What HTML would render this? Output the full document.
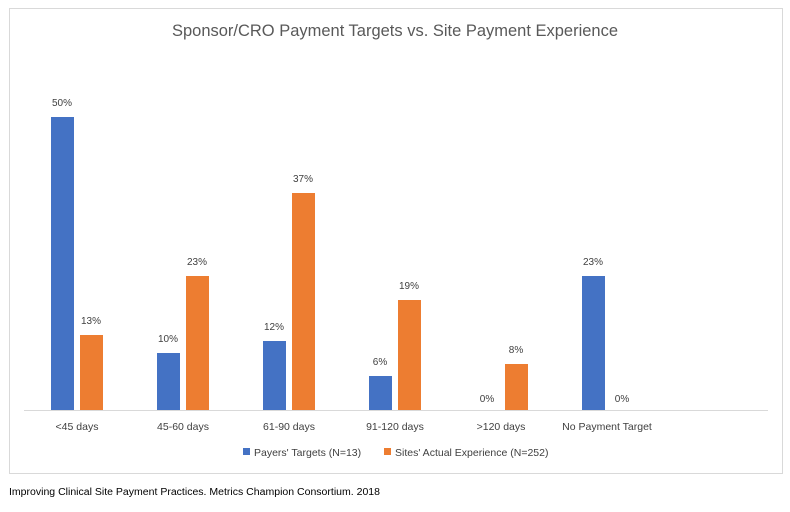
<!DOCTYPE html>
<html><head><meta charset="utf-8"><style>
body{margin:0;background:#fff;width:790px;height:507px;overflow:hidden;font-family:"Liberation Sans",sans-serif;}
</style></head><body>
<svg width="790" height="507" xmlns="http://www.w3.org/2000/svg" font-family="Liberation Sans, sans-serif">
<rect x="9.5" y="8.5" width="773" height="465" fill="#fff" stroke="#d9d9d9"/>
<text x="172" y="36" font-size="16.5" fill="#595959" textLength="446" lengthAdjust="spacingAndGlyphs">Sponsor/CRO Payment Targets vs. Site Payment Experience</text>
<line x1="24" y1="410.5" x2="768" y2="410.5" stroke="#d9d9d9"/>
<g fill="#4472c4">
<rect x="51" y="117" width="23" height="293"/>
<rect x="157" y="353" width="23" height="57"/>
<rect x="263" y="341" width="23" height="69"/>
<rect x="369" y="376" width="23" height="34"/>
<rect x="582" y="276" width="23" height="134"/>
</g>
<g fill="#ed7d31">
<rect x="80" y="335" width="23" height="75"/>
<rect x="186" y="276" width="23" height="134"/>
<rect x="292" y="193" width="23" height="217"/>
<rect x="398" y="300" width="23" height="110"/>
<rect x="505" y="364" width="23" height="46"/>
</g>
<g font-size="10" fill="#404040" text-anchor="middle">
<text x="62" y="106">50%</text><text x="91" y="324">13%</text>
<text x="168" y="342">10%</text><text x="197" y="265">23%</text>
<text x="274" y="330">12%</text><text x="303" y="182">37%</text>
<text x="380" y="365">6%</text><text x="409" y="289">19%</text>
<text x="487" y="402">0%</text><text x="516" y="353">8%</text>
<text x="593" y="265">23%</text><text x="622" y="402">0%</text>
</g>
<g font-size="10.5" fill="#404040" text-anchor="middle">
<text x="77" y="430">&lt;45 days</text><text x="183" y="430">45-60 days</text>
<text x="289" y="430">61-90 days</text><text x="395" y="430">91-120 days</text>
<text x="501" y="430">&gt;120 days</text><text x="607" y="430">No Payment Target</text>
</g>
<rect x="243" y="448" width="7" height="7" fill="#4472c4"/>
<text x="254" y="456" font-size="10.5" fill="#404040">Payers' Targets (N=13)</text>
<rect x="384" y="448" width="7" height="7" fill="#ed7d31"/>
<text x="395" y="456" font-size="10.5" fill="#404040">Sites' Actual Experience (N=252)</text>
<text x="9" y="495" font-size="10" fill="#000" textLength="371" lengthAdjust="spacingAndGlyphs">Improving Clinical Site Payment Practices. Metrics Champion Consortium. 2018</text>
</svg>
</body></html>
